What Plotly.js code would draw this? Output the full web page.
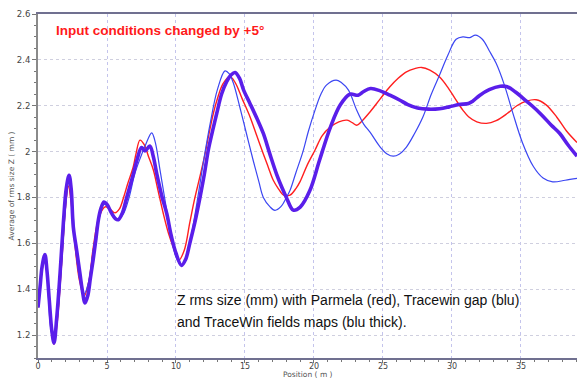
<!DOCTYPE html>
<html>
<head>
<meta charset="utf-8">
<script src="https://cdn.plot.ly/plotly-3.0.1.min.js"></script>
<style>html,body{margin:0;padding:0;background:#fff;}#chart{width:577px;height:380px;}</style>
</head>
<body>
<div id="chart"></div>
<script>
// Parmela (red)
const parmelaX = [0,0.25,0.5,0.7,0.9,1.15,1.4,1.7,2.0,2.2,2.4,2.7,3.0,3.35,3.7,4.0,4.4,4.86,5.2,5.58,5.9,6.2,6.5,6.9,7.1,7.39,7.7,8.0,8.36,8.7,9.08,9.45,9.8,10.2,10.6,11.0,11.3,11.65,12.0,12.35,12.7,13.05,13.4,13.9,14.3,14.8,15.36,15.85,16.33,16.7,17.05,17.4,17.8,18.26,18.7,19.0,19.5,20.07,20.6,21.2,21.8,22.4,22.8,23.1,23.5,24.06,24.8,25.5,26.1,26.7,27.3,27.8,28.4,29.1,29.7,30.3,30.8,31.2,31.8,32.5,33.2,34.0,34.7,35.4,36.1,36.8,37.6,38.3,39.06];
const parmelaY = [1.32,1.46,1.54,1.44,1.28,1.16,1.26,1.5,1.76,1.85,1.78,1.58,1.44,1.37,1.44,1.58,1.71,1.759,1.75,1.733,1.75,1.8,1.86,1.933,1.99,2.05,2.03,1.98,1.92,1.83,1.73,1.645,1.584,1.526,1.57,1.69,1.78,1.87,1.96,2.065,2.165,2.24,2.295,2.328,2.3,2.23,2.152,2.07,1.99,1.93,1.875,1.84,1.81,1.81,1.84,1.87,1.94,2.006,2.07,2.108,2.13,2.137,2.125,2.115,2.135,2.173,2.23,2.283,2.32,2.348,2.362,2.367,2.355,2.325,2.28,2.224,2.18,2.152,2.13,2.123,2.135,2.166,2.2,2.22,2.226,2.205,2.15,2.09,2.04];

// TraceWin gap (thin blue)
const gapX = [0,0.25,0.5,0.7,0.9,1.15,1.4,1.7,2.0,2.25,2.45,2.7,3.0,3.35,3.7,4.0,4.4,4.8,5.2,5.5,5.8,6.2,6.6,7.0,7.4,7.8,8.24,8.5,8.84,9.2,9.6,10.0,10.4,10.7,11.0,11.5,12.0,12.5,13.0,13.55,13.85,14.15,14.6,15.1,15.6,16.0,16.33,16.8,17.17,17.6,18.0,18.26,18.7,19.2,19.6,20.07,20.5,20.9,21.6,22.0,22.5,23.1,23.6,24.06,24.8,25.3,25.75,26.2,26.7,27.3,27.9,28.5,29.1,29.7,30.3,30.8,31.3,31.7,32.2,32.7,33.2,33.8,34.4,35.1,35.9,36.6,37.3,38.2,39.06];
const gapY = [1.32,1.47,1.55,1.43,1.24,1.17,1.27,1.5,1.76,1.88,1.8,1.6,1.45,1.38,1.44,1.57,1.7,1.77,1.75,1.72,1.705,1.73,1.8,1.9,1.97,2.03,2.082,2.04,1.92,1.79,1.65,1.54,1.505,1.53,1.6,1.77,1.96,2.13,2.27,2.352,2.34,2.3,2.2,2.08,1.96,1.87,1.8,1.76,1.744,1.76,1.8,1.83,1.91,2.0,2.09,2.18,2.25,2.29,2.312,2.3,2.268,2.18,2.12,2.085,2.02,1.99,1.98,1.99,2.02,2.08,2.152,2.25,2.334,2.42,2.49,2.5,2.497,2.508,2.49,2.44,2.385,2.29,2.17,2.04,1.935,1.885,1.868,1.875,1.883];

// TraceWin field maps (thick blue)
const mapsX = [0,0.15,0.3,0.5,0.65,0.82,1.0,1.16,1.35,1.6,1.85,2.05,2.25,2.4,2.56,2.8,3.04,3.2,3.41,3.6,3.8,4.0,4.2,4.37,4.55,4.78,5.0,5.3,5.6,5.82,6.1,6.43,6.9,7.2,7.5,7.75,8.1,8.35,8.6,9.0,9.33,9.63,9.93,10.4,10.7,11.0,11.4,11.74,12.05,12.34,12.65,12.95,13.3,13.67,14.0,14.28,14.6,14.9,15.36,15.9,16.33,16.8,17.3,17.7,18.0,18.5,19.0,19.7,20.4,21.2,21.9,22.6,23.2,23.6,24.1,24.8,25.5,26.2,26.8,27.5,28.3,29.1,29.8,30.5,31.2,31.5,32.0,32.7,33.5,34.0,34.6,35.2,35.8,36.5,37.2,37.8,38.4,39.06];
const mapsY = [1.32,1.41,1.5,1.551,1.48,1.35,1.22,1.165,1.27,1.47,1.7,1.84,1.897,1.84,1.67,1.57,1.468,1.4,1.34,1.37,1.45,1.53,1.62,1.7,1.75,1.78,1.77,1.735,1.708,1.703,1.73,1.80,1.9,1.97,2.018,2.003,2.024,1.98,1.905,1.8,1.73,1.64,1.57,1.504,1.53,1.6,1.7,1.8,1.9,2.006,2.09,2.166,2.25,2.305,2.335,2.345,2.32,2.268,2.21,2.14,2.079,1.99,1.9,1.84,1.8,1.745,1.758,1.83,1.962,2.108,2.203,2.25,2.246,2.262,2.275,2.265,2.246,2.225,2.205,2.19,2.185,2.187,2.195,2.205,2.21,2.22,2.245,2.27,2.285,2.283,2.26,2.23,2.2,2.16,2.115,2.08,2.03,1.98];

const xTickVals = [0,5,10,15,20,25,30,35];
const yTickVals = [1.2,1.4,1.6,1.8,2.0,2.2,2.4,2.6];
const yTickText = ['1.2','1.4','1.6','1.8','2','2.2','2.4','2.6'];

const traces = [
  {x: parmelaX, y: parmelaY, mode: 'lines', line: {color: '#ff1f1f', width: 1.4, shape: 'spline'}, hoverinfo: 'skip'},
  {x: gapX, y: gapY, mode: 'lines', line: {color: '#3b46f2', width: 1.2, shape: 'spline'}, hoverinfo: 'skip'},
  {x: mapsX, y: mapsY, mode: 'lines', line: {color: '#5a1eea', width: 3.6, shape: 'spline'}, hoverinfo: 'skip'}
];

const W = 539, H = 344;
const layout = {
  width: 577, height: 380,
  margin: {l: 38, r: 0, t: 14, b: 22},
  paper_bgcolor: '#ffffff', plot_bgcolor: '#ffffff',
  showlegend: false,
  font: {family: 'DejaVu Sans, sans-serif', size: 8.5, color: '#444'},
  xaxis: {
    range: [0, 39.06], tickvals: xTickVals, ticks: 'outside', ticklen: 3, tickcolor: '#777',
    tickfont: {size: 8, color: '#444'}, ticklabelstandoff: -4,
    showline: true, linecolor: '#707090', linewidth: 2, mirror: true,
    showgrid: true, gridcolor: '#c4c4ec', griddash: 'dot', gridwidth: 1,
    zeroline: false,
    minor: {dtick: 1, ticks: 'outside', ticklen: 2, tickcolor: '#777', showgrid: false}
  },
  yaxis: {
    range: [1.1, 2.6], tickvals: yTickVals, ticktext: yTickText, ticks: 'outside', ticklen: 4, tickcolor: '#777',
    tickfont: {size: 8.5, color: '#444'},
    showline: true, linecolor: '#8a8a8a', linewidth: 2, mirror: false,
    showgrid: true, gridcolor: '#cfcfdf', griddash: 'dot', gridwidth: 1,
    zeroline: false,
    minor: {dtick: 0.05, ticks: 'outside', ticklen: 2, tickcolor: '#777', showgrid: false}
  },
  annotations: [
    {xref: 'paper', yref: 'paper', x: -38/W, y: 0.5, xanchor: 'left', yanchor: 'middle',
     xshift: 4, text: 'Average of rms size Z ( mm )', textangle: -90, showarrow: false,
     font: {size: 7.5, color: '#555', family: 'DejaVu Sans, sans-serif'}},
    {xref: 'paper', yref: 'paper', x: 0.5, y: -22/H, xanchor: 'center', yanchor: 'bottom',
     yshift: 0, borderpad: 0, text: 'Position ( m )', showarrow: false,
     font: {size: 7.5, color: '#555', family: 'DejaVu Sans, sans-serif'}},
    {xref: 'paper', yref: 'paper', x: 16/W, y: 1 - 17/H, xanchor: 'left', yanchor: 'middle',
     text: '<b>Input conditions changed by +5°</b>', showarrow: false,
     font: {size: 13.5, color: '#ff1a1a', family: 'Liberation Sans, Arial, sans-serif'}},
    {xref: 'paper', yref: 'paper', x: 137/W, y: 1 - 286/H, xanchor: 'left', yanchor: 'middle',
     text: 'Z rms size (mm) with Parmela (red), Tracewin gap (blu)', showarrow: false,
     font: {size: 14, color: '#111', family: 'Liberation Sans, Arial, sans-serif'}},
    {xref: 'paper', yref: 'paper', x: 137/W, y: 1 - 308/H, xanchor: 'left', yanchor: 'middle',
     text: 'and TraceWin fields maps (blu thick).', showarrow: false,
     font: {size: 14, color: '#111', family: 'Liberation Sans, Arial, sans-serif'}}
  ]
};

Plotly.newPlot('chart', traces, layout, {displayModeBar: false, staticPlot: true});
</script>
</body>
</html>
